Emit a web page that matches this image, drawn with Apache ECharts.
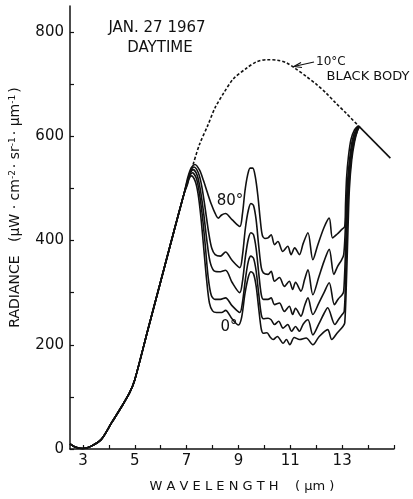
<!DOCTYPE html>
<html>
<head>
<meta charset="utf-8">
<script src="https://cdn.jsdelivr.net/npm/echarts@6/dist/echarts.min.js"></script>
<style>
  html, body { margin: 0; padding: 0; background: #fff; }
  #chart-container { width: 413px; height: 499px; }
</style>
</head>
<body>
<div id="chart-container"></div>
<script>
// wavelength (um), radiance (uW cm-2 sr-1 um-1)
var common = [[2.5, 10], [2.7, 4], [3.0, 1], [3.3, 5], [3.7, 18], [4.1, 50], [4.5, 82], [4.8, 108],
  [5.0, 133], [5.5, 228], [6.0, 322], [6.5, 416], [6.9, 490]];

var zen80 = [[7.05, 522], [7.18, 540], [7.32, 546], [7.5, 535], [7.65, 515], [7.8, 492], [7.95, 470],
  [8.1, 452], [8.22, 443], [8.35, 449], [8.5, 452], [8.75, 440], [9.05, 427], [9.15, 450], [9.25, 495],
  [9.35, 525], [9.45, 539], [9.55, 539], [9.65, 522], [9.75, 485], [9.84, 440], [9.92, 410],
  [10.02, 404], [10.14, 405], [10.26, 411], [10.39, 392], [10.52, 398], [10.71, 379], [10.9, 389],
  [11.03, 373], [11.17, 386], [11.35, 373], [11.5, 395], [11.68, 415], [11.87, 363], [12.05, 390],
  [12.3, 425], [12.5, 443], [12.63, 405], [12.8, 412], [12.98, 421], [13.1, 427], [13.13, 470],
  [13.17, 520], [13.24, 560], [13.34, 594], [13.48, 613], [13.62, 620]];

var zenB = [[7.05, 518], [7.16, 534], [7.28, 541], [7.45, 530], [7.58, 505], [7.72, 460], [7.85, 415],
  [7.97, 385], [8.1, 373], [8.3, 370], [8.5, 378], [8.75, 362], [9.05, 348], [9.15, 370], [9.27, 425],
  [9.38, 458], [9.48, 471], [9.58, 467], [9.68, 440], [9.78, 390], [9.88, 348], [9.96, 338],
  [10.14, 335], [10.26, 341], [10.39, 322], [10.58, 329], [10.77, 312], [10.96, 322], [11.09, 306],
  [11.2, 320], [11.41, 303], [11.55, 325], [11.68, 344], [11.87, 296], [12.1, 330], [12.3, 360],
  [12.5, 383], [12.68, 335], [12.82, 350], [12.98, 363], [13.06, 373], [13.12, 420], [13.16, 470],
  [13.21, 515], [13.29, 557], [13.39, 592], [13.52, 612], [13.65, 619]];

var zenC = [[7.04, 514], [7.14, 529], [7.25, 536], [7.4, 526], [7.52, 500], [7.65, 455], [7.78, 400],
  [7.9, 360], [8.05, 342], [8.25, 340], [8.5, 343], [8.75, 320], [9.05, 300], [9.15, 320], [9.27, 370],
  [9.38, 403], [9.48, 415], [9.58, 411], [9.68, 385], [9.78, 338], [9.88, 296], [9.96, 287],
  [10.14, 287], [10.26, 290], [10.39, 277], [10.58, 280], [10.77, 264], [10.96, 274], [11.09, 258],
  [11.2, 270], [11.41, 255], [11.55, 275], [11.68, 290], [11.87, 258], [12.1, 280], [12.3, 300],
  [12.5, 319], [12.7, 277], [12.85, 288], [13.0, 296], [13.06, 303], [13.13, 380], [13.18, 455],
  [13.23, 505], [13.32, 556], [13.42, 590], [13.55, 611], [13.66, 619]];

var zenD = [[7.03, 510], [7.12, 524], [7.22, 530], [7.37, 520], [7.48, 495], [7.6, 450], [7.72, 390],
  [7.83, 330], [7.95, 295], [8.1, 287], [8.3, 287], [8.5, 290], [8.75, 275], [9.05, 262], [9.15, 280],
  [9.27, 327], [9.38, 360], [9.48, 370], [9.58, 366], [9.68, 342], [9.78, 298], [9.88, 258],
  [9.96, 250], [10.14, 251], [10.26, 248], [10.39, 239], [10.55, 245], [10.72, 232], [10.9, 239],
  [11.05, 226], [11.2, 235], [11.35, 226], [11.5, 240], [11.68, 248], [11.87, 219], [12.1, 240],
  [12.3, 260], [12.44, 271], [12.72, 239], [12.88, 250], [13.0, 258], [13.08, 264], [13.14, 340],
  [13.2, 440], [13.25, 500], [13.34, 552], [13.45, 588], [13.58, 610], [13.67, 619]];

var zen0 = [[7.02, 506], [7.1, 519], [7.18, 524], [7.33, 514], [7.44, 490], [7.55, 445], [7.66, 385],
  [7.77, 325], [7.88, 280], [8.0, 265], [8.15, 262], [8.35, 262], [8.5, 266], [8.75, 250], [9.0, 238],
  [9.12, 252], [9.25, 298], [9.38, 330], [9.48, 340], [9.58, 336], [9.68, 313], [9.78, 270],
  [9.88, 230], [9.96, 222], [10.1, 223], [10.22, 215], [10.34, 210], [10.5, 216], [10.72, 203],
  [10.85, 210], [10.98, 200], [11.15, 214], [11.36, 210], [11.61, 213], [11.87, 200], [12.1, 215],
  [12.44, 229], [12.6, 210], [12.8, 222], [13.03, 235], [13.1, 242], [13.17, 330], [13.23, 430],
  [13.28, 500], [13.37, 555], [13.48, 590], [13.6, 612], [13.68, 619]];

var blackBody = [[7.25, 546], [7.5, 585], [7.8, 619], [8.1, 655], [8.43, 683], [8.8, 710], [9.32, 731],
  [9.7, 743], [10.1, 747], [10.5, 746], [10.85, 741], [11.2, 730], [11.61, 715], [12.0, 700],
  [12.38, 683], [12.75, 664], [13.14, 645], [13.65, 619]];

var tail = [[13.65, 619], [14.86, 558]];

var xLabels = [3, 5, 7, 9, 11, 13];
var xTicks = [3, 4, 5, 6, 7, 8, 9, 10, 11, 12, 13, 14, 15];
var yLabels = [0, 200, 400, 600, 800];
var yTicks = [0, 100, 200, 300, 400, 500, 600, 700, 800];

var curves = [
  { name: "80°", pts: zen80 },
  { name: "B", pts: zenB },
  { name: "C", pts: zenC },
  { name: "D", pts: zenD },
  { name: "0°", pts: zen0 }
];

var font = "DejaVu Sans";
var dom = document.getElementById("chart-container");
var myChart = echarts.init(dom, null, { renderer: "canvas" });

var series = curves.map(function (c) {
  return {
    name: c.name,
    type: "line",
    data: common.concat(c.pts),
    showSymbol: false,
    smooth: 0.3,
    lineStyle: { color: "#111", width: 1.6 },
    silent: true
  };
});
series.push({
  name: "10°C black body",
  type: "line",
  data: blackBody,
  showSymbol: false,
  smooth: 0.3,
  lineStyle: { color: "#111", width: 1.6, type: [3, 2] },
  silent: true
});
series.push({
  name: "tail",
  type: "line",
  data: tail,
  showSymbol: false,
  lineStyle: { color: "#111", width: 1.6 },
  silent: true
});

var option = {
  animation: false,
  grid: { left: 69, right: 19, top: 6, bottom: 50 },
  xAxis: {
    type: "value",
    min: 2.5,
    max: 15,
    name: "W A V E L E N G T H    ( μm )",
    nameLocation: "middle",
    nameGap: 31,
    nameTextStyle: { fontFamily: font, fontSize: 13, color: "#111", padding: [0, 0, 0, 20] },
    axisLine: { lineStyle: { color: "#111", width: 1.5 } },
    axisTick: { inside: true, length: 4, customValues: xTicks, lineStyle: { color: "#111", width: 1.2 } },
    axisLabel: { customValues: xLabels, fontFamily: font, fontSize: 15, color: "#111", margin: 5 },
    splitLine: { show: false }
  },
  yAxis: {
    type: "value",
    min: 0,
    max: 850,
    name: "{a|RADIANCE   (μW · cm}{s|-2}{a|· sr}{s|-1}{a|· μm}{s|-1}{a|)}",
    nameLocation: "middle",
    nameGap: 47,
    nameRotate: 90,
    nameTextStyle: {
      padding: [0, 0, 0, 40],
      rich: {
        a: { fontFamily: font, fontSize: 14, color: "#111" },
        s: { fontFamily: font, fontSize: 9, color: "#111", verticalAlign: "top", padding: [0, 2, 6, 0] }
      }
    },
    axisLine: { show: true, lineStyle: { color: "#111", width: 1.5 } },
    axisTick: { show: true, inside: true, length: 4, customValues: yTicks, lineStyle: { color: "#111", width: 1.2 } },
    axisLabel: { customValues: yLabels, fontFamily: font, fontSize: 15, color: "#111", margin: 6 },
    splitLine: { show: false }
  },
  graphic: [
    { type: "text", x: 157, y: 28, style: { text: "JAN. 27 1967", font: "15px " + font, fill: "#111", align: "center", verticalAlign: "middle" } },
    { type: "text", x: 160, y: 48, style: { text: "DAYTIME", font: "15px " + font, fill: "#111", align: "center", verticalAlign: "middle" } },
    { type: "text", x: 316, y: 62, style: { text: "10°C", font: "12px " + font, fill: "#111", align: "left", verticalAlign: "middle" } },
    { type: "text", x: 368, y: 77, style: { text: "BLACK BODY", font: "13px " + font, fill: "#111", align: "center", verticalAlign: "middle" } },
    { type: "line", shape: { x1: 296, y1: 66, x2: 314, y2: 62 }, style: { stroke: "#111", lineWidth: 1.2 } },
    { type: "polyline", shape: { points: [[301, 62.5], [294, 66.5], [302, 67.5]] }, style: { stroke: "#111", lineWidth: 1.2, fill: null } },
    { type: "text", x: 230, y: 201, style: { text: "80°", font: "15px " + font, fill: "#111", align: "center", verticalAlign: "middle" } },
    { type: "text", x: 229, y: 327, style: { text: "0°", font: "15px " + font, fill: "#111", align: "center", verticalAlign: "middle" } }
  ],
  series: series
};

myChart.setOption(option);
window.addEventListener("resize", myChart.resize);
</script>
</body>
</html>
